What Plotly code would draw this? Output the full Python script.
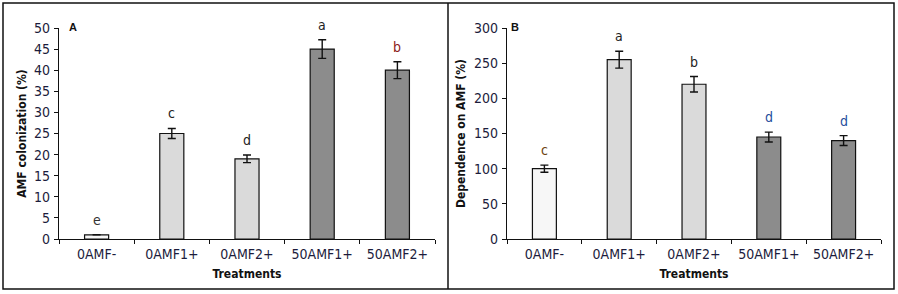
import plotly.graph_objects as go

categories = ["0AMF-", "0AMF1+", "0AMF2+", "50AMF1+", "50AMF2+"]
colonization = [1, 25, 19, 45, 40]
colonization_err = [0, 1.2, 0.9, 2.2, 2.0]
colonization_letters = ["e", "c", "d", "a", "b"]
dependence = [100, 255, 220, 145, 140]
dependence_err = [5, 12, 11, 7, 7]
dependence_letters = ["c", "a", "b", "d", "d"]

bar_colors = ["#f7f7f7", "#dadada", "#dadada", "#8c8c8c", "#8c8c8c"]
letters_colors_a = ["#333333", "#222222", "#222222", "#222222", "#8b1a1a"]
letters_colors_b = ["#6b4210", "#222222", "#222222", "#1f4f9c", "#1f4f9c"]

W, H = 898, 294
FONT = "DejaVu Sans Condensed, Liberation Sans Narrow, Liberation Sans, sans-serif"
TICKCOL = "#1c1c3c"

def px(x):
    return x / W

def py(y):
    return 1 - y / H

fig = go.Figure()
fig.add_trace(go.Bar(x=categories, y=colonization, xaxis="x", yaxis="y",
                     marker=dict(color=bar_colors, line=dict(color="#111", width=1.2)),
                     error_y=dict(type="data", array=colonization_err, color="#111", thickness=1.4, width=4),
                     width=0.32, showlegend=False))
fig.add_trace(go.Bar(x=categories, y=dependence, xaxis="x2", yaxis="y2",
                     marker=dict(color=bar_colors, line=dict(color="#111", width=1.2)),
                     error_y=dict(type="data", array=dependence_err, color="#111", thickness=1.4, width=4),
                     width=0.32, showlegend=False))

ann = []
for c, v, e, t, col in zip(categories, colonization, colonization_err, colonization_letters, letters_colors_a):
    ann.append(dict(x=c, y=v + e, xref="x", yref="y", text=t, showarrow=False, yanchor="bottom",
                    yshift=5, font=dict(family=FONT, size=14, color=col)))
for c, v, e, t, col in zip(categories, dependence, dependence_err, dependence_letters, letters_colors_b):
    ann.append(dict(x=c, y=v + e, xref="x2", yref="y2", text=t, showarrow=False, yanchor="bottom",
                    yshift=5, font=dict(family=FONT, size=14, color=col)))

ann += [
    dict(x=px(67), y=py(19), xref="paper", yref="paper", text="<b>A</b>", showarrow=False,
         font=dict(family="Liberation Sans, Arial, sans-serif", size=11, color="#111")),
    dict(x=px(515), y=py(19), xref="paper", yref="paper", text="<b>B</b>", showarrow=False,
         font=dict(family="Liberation Sans, Arial, sans-serif", size=11, color="#111")),
]

axis_common = dict(showline=True, linecolor="#111", linewidth=1.2, showgrid=False, zeroline=False,
                   ticks="outside", ticklen=4, tickcolor="#111", tickwidth=1.2,
                   tickfont=dict(family=FONT, size=14, color=TICKCOL))

fig.update_layout(
    width=W, height=H, margin=dict(l=0, r=0, t=0, b=0, autoexpand=False),
    paper_bgcolor="white", plot_bgcolor="white", bargap=0.68,
    xaxis=dict(domain=[px(59), px(435)], anchor="y", type="category", tickson="boundaries",
               title=dict(text="<b>Treatments</b>", font=dict(family=FONT, size=12, color="#111"), standoff=8),
               ticklabelstandoff=2, **axis_common),
    yaxis=dict(domain=[py(239), py(28)], anchor="x", range=[0, 50], dtick=5,
               title=dict(text="<b>AMF colonization (%)</b>", font=dict(family=FONT, size=12, color="#111"), standoff=4),
               ticklabelstandoff=1, **axis_common),
    xaxis2=dict(domain=[px(507), px(881)], anchor="y2", type="category", tickson="boundaries",
                title=dict(text="<b>Treatments</b>", font=dict(family=FONT, size=12, color="#111"), standoff=8),
                ticklabelstandoff=2, **axis_common),
    yaxis2=dict(domain=[py(239), py(28)], anchor="x2", range=[0, 300], dtick=50,
                title=dict(text="<b>Dependence on AMF (%)</b>", font=dict(family=FONT, size=12, color="#111"), standoff=5),
                ticklabelstandoff=1, **axis_common),
    annotations=ann,
    shapes=[
        dict(type="rect", xref="paper", yref="paper", x0=px(3), x1=px(894), y0=py(289), y1=py(3),
             line=dict(color="#111", width=1.5)),
        dict(type="line", xref="paper", yref="paper", x0=px(448), x1=px(448), y0=py(289), y1=py(3),
             line=dict(color="#111", width=1.5)),
    ],
)

fig.write_html("out.html", config={"displayModeBar": False},
               post_script="document.body.style.margin='0';")
